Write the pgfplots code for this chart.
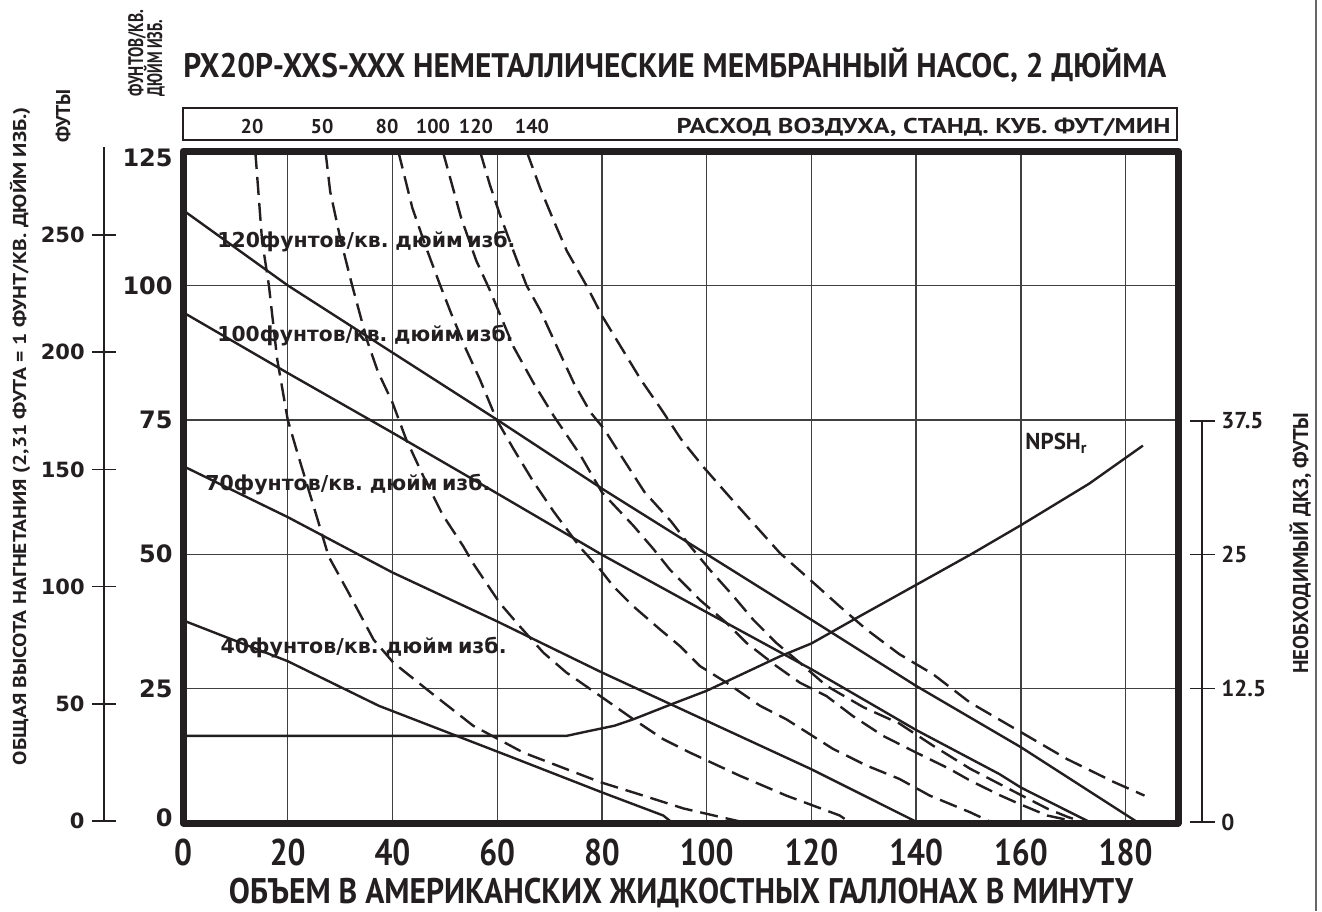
\documentclass[border=0pt]{standalone}
\usepackage{pgfplots}
\pgfplotsset{compat=1.18}
\usepackage{graphicx}
\usepackage{fontspec}
\setmainfont{PT Sans}
\newfontfamily\condf{PT Sans}[FakeStretch=0.85]
\newfontfamily\djv{DejaVu Sans}
\definecolor{ink}{HTML}{231F20}
\newcommand\fitw[2]{\resizebox{#1}{\height}{#2}}
\newcommand\clab{\djv\bfseries\fontsize{10.3pt}{10.3pt}\selectfont\spaceskip=0.22em plus 0pt\relax}
\pgfplotsset{
  pc/.style={ink, line width=1.2pt, mark=none, line join=round},
  ac/.style={ink, line width=1.2pt, mark=none, dash pattern=on 9pt off 4pt, line join=round},
}
\begin{document}
\begin{tikzpicture}
\path[use as bounding box] (0,0) rectangle (661pt,-455.5pt);

% feet scale (left, outer)
\begin{axis}[at={(52pt,-410.5pt)}, anchor=south west, scale only axis,
  width=1pt, height=337pt, xmin=0, xmax=1, ymin=0, ymax=287.5,
  hide x axis, axis y line=left, axis line style={-, ink, line width=0.75pt},
  ytick={0,50,100,150,200,250}, yticklabels={0,50,100,150,200,250},
  tick align=center, major tick length=12.5pt, tick style={ink, line width=0.75pt},
  yticklabel style={font=\djv\bfseries\fontsize{10.5pt}{10.5pt}\selectfont, text=ink, anchor=east, inner sep=0pt, xshift=-3.25pt}]
\end{axis}

% NPSH scale (right)
\begin{axis}[at={(600pt,-411pt)}, anchor=south west, scale only axis,
  width=1pt, height=200.5pt, xmin=0, xmax=1, ymin=0, ymax=37.5,
  hide x axis, axis y line=right, axis line style={-, ink, line width=0.75pt},
  ytick={0,12.5,25,37.5}, yticklabels={0,12.5,25,37.5},
  tick align=center, major tick length=12.5pt, tick style={ink, line width=0.75pt},
  yticklabel style={font=\bfseries\fontsize{11.5pt}{11.5pt}\selectfont, text=ink, anchor=west, inner sep=0pt, xshift=3.25pt}]
\end{axis}

% main chart
\begin{axis}[at={(91.5pt,-411.5pt)}, anchor=south west, scale only axis,
  width=497.5pt, height=336pt,
  xmin=0, xmax=190, ymin=0, ymax=125,
  axis line style={ink, line width=3.5pt, line join=round},
  xtick={0,20,...,180}, xticklabels={0,20,40,60,80,100,120,140,160,180},
  ytick={0,25,50,75,100,125},
  yticklabels={{\raisebox{2.5pt}[8.75pt][0pt]{0}},25,50,75,100,{\raisebox{-3.5pt}[8.75pt][0pt]{125}}},
  major tick length=0pt,
  grid=major, grid style={black!75, line width=0.7pt},
  xticklabel style={font=\condf\bfseries\fontsize{18.6pt}{18.6pt}\selectfont, text=ink, anchor=base, inner sep=0pt, yshift=-21pt},
  yticklabel style={font=\djv\bfseries\fontsize{12pt}{12pt}\selectfont, text=ink, anchor=east, inner sep=0pt, xshift=-5pt},
  clip=true]

% pressure curves (psi)
\addplot[pc] coordinates {(0,114) (20,100) (40,87.5) (60,75) (80,62.2) (100,50) (120,37.8) (140,25.5) (160,14.1) (182.5,0)};
\addplot[pc] coordinates {(0,95) (20,83.7) (40,72.6) (60,61.3) (80,49.9) (100,39.2) (120,28.6) (140,17.3) (155.9,9.1) (160,6.6) (173.5,0)};
\addplot[pc] coordinates {(0,66.4) (20,56.9) (40,46.6) (60,37.5) (80,28) (100,19) (120,10) (140.5,0)};
\addplot[pc] coordinates {(0,37.7) (20,30.1) (37.4,21.8) (62.9,12.2) (80,5.7) (91.7,1.4) (93.5,0)};

% air consumption curves (SCFM)
\addplot[ac] coordinates {(13.8,125) (15.1,108.3) (16.4,100) (18,86.2) (20,75) (21.8,69) (25.6,56.8) (27.8,49.6) (31.3,43.4) (36.4,34.1) (40.2,29.8) (46.5,24.9) (55.4,18.1) (65,13.1) (79.7,7.6) (87.9,5.1) (95.6,2.7) (107.6,0)};
\addplot[ac] coordinates {(27.2,125) (28.1,117.5) (30,108.9) (32.3,100) (35.1,89.9) (37.2,84) (40,78.2) (42.6,71.4) (45.8,64.7) (49.6,57.3) (53.5,51.5) (55.4,48.3) (60.5,40.9) (64.3,36.6) (68.8,31.7) (73.2,28) (79.7,23.6) (86,19.3) (91.7,15.6) (96.8,13.1) (106.3,8.8) (115.2,5.1) (125.4,1.4) (127.5,0)};
\addplot[ac] coordinates {(41.1,125) (43.8,114.4) (46.4,107.1) (49,100.3) (51.2,94.8) (54.1,88) (56.7,82.5) (59.9,75) (63.1,69.6) (66.9,63.5) (70.8,57.9) (75.9,51.2) (79.7,47.1) (82.2,44) (86,40.3) (91.1,36) (94.9,32.9) (98.7,29.2) (103.8,26.1) (110.2,21.8) (115.2,19.3) (124.1,13.8) (130.5,10.7) (136.8,8.2) (142.6,5.1) (150.3,2) (154.7,0)};
\addplot[ac] coordinates {(49.6,125) (53.1,112.6) (56,104.6) (58.6,99.1) (63.1,88.6) (66.9,81.9) (70.8,75.7) (75.9,68.4) (80,61.5) (86,55.3) (89.8,51) (93,47.1) (98.7,41.5) (103.8,37.2) (107.6,33.5) (113.3,29.2) (117.8,26.1) (122.9,23.6) (127.9,19.9) (133.7,16.2) (140,13.1) (146.3,10.1) (150.3,7.9) (155.9,5.2) (159.6,3.6) (165,1.4) (168.8,0.6) (171,0)};
\addplot[ac] coordinates {(56.7,125) (58.6,118.7) (60.5,113.2) (63.1,106.4) (65.6,100) (68.2,95.4) (71.4,88.6) (74.6,81.9) (77.8,76.4) (80.4,73.3) (83.6,68.4) (88.1,61.6) (93.2,56.1) (96.6,51.8) (100.6,47.1) (105.1,42.2) (108.9,37.8) (113.3,33.5) (117.8,29.8) (122.9,25.5) (130,21.5) (136.8,18.5) (143.2,14.4) (150.3,10.1) (159.6,5.4) (165,2.7) (169,1.1) (172.5,0)};
\addplot[ac] coordinates {(65.6,125) (68.2,118.1) (70.8,112) (73.3,106.4) (77.2,99.7) (80.1,94.2) (83.6,88.6) (87.4,82.5) (91.3,77) (95.1,71.4) (99.4,66.2) (103.8,61.3) (108.3,56.4) (114,50.2) (119.8,45.2) (125.4,40.3) (130.5,36) (136.8,31.4) (143.2,27.7) (150.3,22.4) (160,16.9) (168.8,11.9) (177.8,7.6) (183.6,5.1)};

% NPSHr (feet, on the right scale: 1 ft = 2 psi units)
\addplot[pc, y filter/.expression={2*y}] coordinates {(0,8.1) (73.2,8.1) (77,8.5) (82.4,9.05) (86,9.65) (93.3,11.05) (100,12.3) (114,15.5) (120,16.7) (128,18.9) (140,22.15) (150.5,25) (160,27.7) (173,31.55) (183.3,35.1)};

\node[anchor=base west, inner sep=0pt, text=ink] at (axis cs:6.5,107.1) {\fitw{149pt}{\clab 120фунтов/кв. дюйм изб.}};
\node[anchor=base west, inner sep=0pt, text=ink] at (axis cs:6.5,89.5) {\fitw{148pt}{\clab 100фунтов/кв. дюйм изб.}};
\node[anchor=base west, inner sep=0pt, text=ink] at (axis cs:4.2,61.9) {\fitw{142.5pt}{\clab 70фунтов/кв. дюйм изб.}};
\node[anchor=base west, inner sep=0pt, text=ink] at (axis cs:7.1,31.6) {\fitw{143pt}{\clab 40фунтов/кв. дюйм изб.}};
\node[anchor=base west, inner sep=0pt, text=ink] at (axis cs:160.8,69.4) {\bfseries\fontsize{11.5pt}{11.5pt}\selectfont NPSH\textsubscript{r}};
\end{axis}

\begin{scope}[x=0.5pt,y=-0.5pt]
\node[anchor=base west, inner sep=0pt, text=ink] at (183,77) {\fitw{491.5pt}{\bfseries\fontsize{17pt}{17pt}\selectfont PX20P-XXS-XXX НЕМЕТАЛЛИЧЕСКИЕ МЕМБРАННЫЙ НАСОС, 2 ДЮЙМА}};
\draw[ink, line width=0.75pt] (183,108) rectangle (1177,140);
\foreach \xx/\lab in {252/20,322/50,387/80,433/100,476/120,532/140}
  \node[anchor=base, inner sep=0pt, text=ink] at (\xx,133) {\bfseries\fontsize{10pt}{10pt}\selectfont\lab};
\node[anchor=base east, inner sep=0pt, text=ink] at (1171,133) {\fitw{247pt}{\bfseries\fontsize{10.7pt}{10.7pt}\selectfont РАСХОД ВОЗДУХА, СТАНД. КУБ. ФУТ/МИН}};
\node[rotate=90, anchor=base west, inner sep=0pt, text=ink] at (143,97) {\fitw{43.5pt}{\bfseries\fontsize{10.5pt}{10.5pt}\selectfont ФУНТОВ/КВ.}};
\node[rotate=90, anchor=base west, inner sep=0pt, text=ink] at (162,97) {\fitw{38.5pt}{\bfseries\fontsize{10.5pt}{10.5pt}\selectfont ДЮЙМ ИЗБ.}};
\node[rotate=90, anchor=base west, inner sep=0pt, text=ink] at (70,143) {\bfseries\fontsize{10pt}{10pt}\selectfont ФУТЫ};
\node[rotate=90, anchor=base, inner sep=0pt, text=ink] at (26,436) {\fitw{329pt}{\bfseries\fontsize{9.3pt}{9.3pt}\selectfont ОБЩАЯ ВЫСОТА НАГНЕТАНИЯ (2,31 ФУТА = 1 ФУНТ/КВ. ДЮЙМ ИЗБ.)}};
\node[rotate=90, anchor=base, inner sep=0pt, text=ink] at (1308,543) {\fitw{130.5pt}{\bfseries\fontsize{10.7pt}{10.7pt}\selectfont НЕОБХОДИМЫЙ ДКЗ, ФУТЫ}};
\node[anchor=base, inner sep=0pt, text=ink] at (681,903) {\fitw{452pt}{\bfseries\fontsize{17.8pt}{17.8pt}\selectfont ОБЪЕМ В АМЕРИКАНСКИХ ЖИДКОСТНЫХ ГАЛЛОНАХ В МИНУТУ}};
\draw[black!60, line width=0.6pt] (1316,0) -- (1316,911);
\end{scope}
\end{tikzpicture}
\end{document}
